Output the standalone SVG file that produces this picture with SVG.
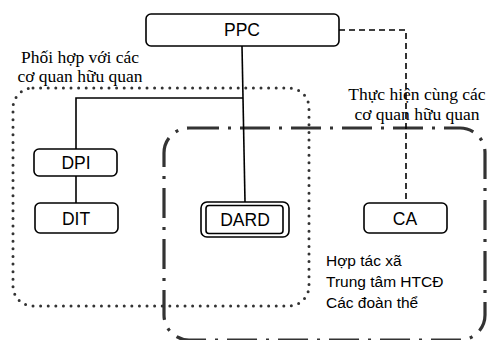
<svg xmlns="http://www.w3.org/2000/svg" width="492" height="340" viewBox="0 0 492 340">
  <style>
    .box { fill: #fff; stroke: #000; stroke-width: 1.6; }
    .lbl { font-family: "Liberation Sans", Arial, sans-serif; font-size: 17.5px; fill: #000; text-anchor: middle; }
    .note { font-family: "Liberation Serif", "Times New Roman", serif; font-size: 17.5px; fill: #000; text-anchor: middle; }
    .list { font-family: "Liberation Sans", Arial, sans-serif; font-size: 15.5px; fill: #000; }
    .solid { fill: none; stroke: #000; stroke-width: 1.6; }
    .dashed { fill: none; stroke: #000; stroke-width: 1.6; stroke-dasharray: 6 4; }
    .dotted { fill: none; stroke: #333; stroke-width: 3; stroke-linecap: round; stroke-dasharray: 0 7.6; }
    .dashdot { fill: none; stroke: #333; stroke-width: 3.2; stroke-dasharray: 30 9 3 9; }
  </style>

  <!-- group outlines -->
  <g id="groups">
    <rect class="dotted" x="13" y="88" width="296" height="218" rx="20"/>
    <rect class="dashdot" x="164" y="128" width="321" height="212" rx="25"/>
  </g>

  <!-- connectors -->
  <g id="connectors">
    <path class="solid" d="M242 46 L245 202"/>
    <path class="solid" d="M243 98 L76 98 L76 149"/>
    <path class="solid" d="M76 176 L76 203"/>
    <path class="dashed" d="M339 30 L406 30 L406 203"/>
  </g>

  <!-- group captions -->
  <g id="captions">
    <text class="note" x="80" y="63">Phối hợp với các</text>
    <text class="note" x="80" y="82">cơ quan hữu quan</text>
    <text class="note" x="417" y="100">Thực hiện cùng các</text>
    <text class="note" x="417" y="120">cơ quan hữu quan</text>
  </g>

  <g id="ppc">
    <rect class="box" x="146" y="14" width="193" height="32" rx="5"/>
    <text class="lbl" x="242" y="36">PPC</text>
  </g>

  <g id="dpi">
    <rect class="box" x="34" y="149" width="83" height="27" rx="5"/>
    <text class="lbl" x="76" y="169">DPI</text>
  </g>

  <g id="dit">
    <rect class="box" x="35" y="203" width="83" height="30" rx="5"/>
    <text class="lbl" x="76" y="225">DIT</text>
  </g>

  <g id="dard">
    <rect class="box" x="201" y="202" width="88" height="35" rx="6"/>
    <rect class="box" x="206" y="205.5" width="77" height="28" rx="3"/>
    <text class="lbl" x="245" y="226">DARD</text>
  </g>

  <g id="ca">
    <rect class="box" x="364" y="203" width="83" height="30" rx="5"/>
    <text class="lbl" x="405" y="225">CA</text>
  </g>

  <g id="members">
    <text class="list" x="326" y="266">Hợp tác xã</text>
    <text class="list" x="326" y="287">Trung tâm HTCĐ</text>
    <text class="list" x="326" y="308">Các đoàn thể</text>
  </g>
</svg>
